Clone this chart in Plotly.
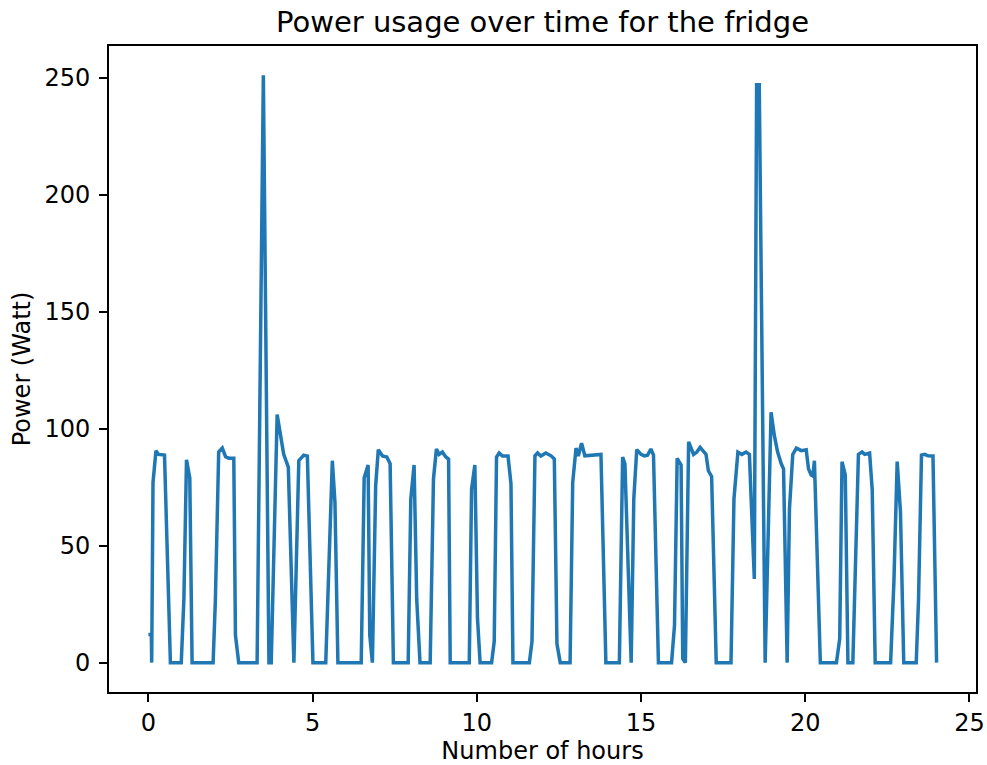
import plotly.graph_objects as go

hours = [0.0, 0.09, 0.1, 0.14, 0.23, 0.31, 0.49, 0.67, 1.0, 1.08, 1.16, 1.26, 1.33,
         1.97, 2.04, 2.14, 2.25, 2.35, 2.45, 2.6, 2.65, 2.75, 3.31, 3.5, 3.67, 3.74,
         3.92, 4.02, 4.12, 4.26, 4.43, 4.58, 4.73, 4.84, 5.01, 5.4, 5.47, 5.6, 5.68,
         5.77, 6.48, 6.57, 6.69, 6.74, 6.82, 6.92, 7.0, 7.13, 7.26, 7.36, 7.46, 7.91,
         7.99, 8.09, 8.17, 8.27, 8.58, 8.68, 8.77, 8.85, 8.95, 9.05, 9.14, 9.19, 9.77,
         9.84, 9.94, 10.02, 10.1, 10.45, 10.53, 10.6, 10.68, 10.78, 10.95, 11.04, 11.1,
         11.6, 11.68, 11.77, 11.85, 11.95, 12.1, 12.26, 12.36, 12.44, 12.54, 12.84,
         12.92, 13.02, 13.09, 13.19, 13.29, 13.78, 13.93, 14.34, 14.44, 14.51, 14.7,
         14.78, 14.87, 15.0, 15.1, 15.2, 15.3, 15.38, 15.53, 15.93, 16.02, 16.1, 16.22,
         16.27, 16.35, 16.45, 16.6, 16.7, 16.8, 16.9, 16.98, 17.05, 17.15, 17.29,
         17.74, 17.83, 17.95, 18.07, 18.2, 18.3, 18.45, 18.52, 18.6, 18.78, 18.96,
         19.06, 19.16, 19.27, 19.34, 19.45, 19.52, 19.62, 19.73, 19.88, 20.03, 20.1,
         20.18, 20.23, 20.28, 20.46, 20.95, 21.05, 21.12, 21.22, 21.3, 21.45, 21.52,
         21.62, 21.73, 21.81, 21.96, 22.04, 22.13, 22.6, 22.7, 22.8, 22.9, 23.0, 23.38,
         23.45, 23.54, 23.64, 23.74, 23.89, 24.0]

power = [12, 12, 0, 77, 90.6, 89, 88.7, 0, 0, 27, 86.7, 79, 0,
         0, 27, 90, 91.7, 88, 87.4, 87.4, 11.7, 0, 0, 251, 0, 0,
         106, 97, 89, 83.6, 0, 86.3, 88.7, 88.3, 0, 0, 27, 86.3, 68.6,
         0, 0, 79, 84.5, 11.7, 0, 75.6, 91, 88.3, 87.9, 85, 0, 0,
         70, 84.5, 27, 0, 0, 78.5, 91.3, 89, 90, 88, 87, 0, 0,
         74, 84.5, 19, 0, 0, 9, 87.9, 89.6, 88.3, 88.3, 76.4, 0,
         0, 9, 88.4, 89.6, 88.3, 89.6, 88.4, 87, 8, 0, 0,
         77, 91.7, 88.3, 93.8, 88.4, 89, 0, 0, 87.9, 85, 0,
         70, 91, 89, 88.4, 88.7, 91.3, 88.7, 0, 0, 16, 87.3, 84.5,
         1.7, 0, 94.4, 89, 90, 92, 90, 89, 82, 79.6, 0,
         0, 70, 90, 89, 90, 89, 35.8, 247, 247, 0, 107,
         97, 90, 85, 82.8, 0, 65.7, 89, 91.7, 90.6, 91, 82.8,
         80.2, 79.8, 86.3, 0, 0, 10.2, 85.9, 80.2, 0, 0, 34.5,
         89, 90, 89, 89.6, 74, 0, 0, 34.5, 85.9, 64.4, 0, 0,
         27, 88.7, 89, 88.4, 88.3, 0]

x_ticks = [0, 5, 10, 15, 20, 25]
y_ticks = [0, 50, 100, 150, 200, 250]

FONT = "DejaVu Sans"

fig = go.Figure()
fig.add_trace(go.Scatter(x=hours, y=power, mode="lines",
                         line=dict(color="#1f77b4", width=3.5),
                         showlegend=False))

axis_common = dict(showline=True, linecolor="black", linewidth=1.9, mirror=True,
                   ticks="outside", ticklen=8, tickwidth=1.9, tickcolor="black",
                   showgrid=False, zeroline=False, automargin=False,
                   ticklabeloverflow="allow",
                   tickfont=dict(family=FONT, size=24, color="black"))

fig.update_layout(
    width=987, height=765,
    margin=dict(l=109, r=11, t=46, b=73),
    plot_bgcolor="white", paper_bgcolor="white",
    title=dict(text="Power usage over time for the fridge",
               font=dict(family=FONT, size=29, color="black"),
               x=0.5, xref="paper", y=0.972, yref="container", yanchor="middle"),
    xaxis=dict(range=[-1.2, 25.2], tickvals=x_ticks,
               title=dict(text="Number of hours", font=dict(family=FONT, size=24, color="black"),
                          standoff=11),
               **axis_common),
    yaxis=dict(range=[-12.55, 263.55], tickvals=y_ticks, ticklabelstandoff=4,
               title=dict(text="Power (Watt)", font=dict(family=FONT, size=24, color="black"),
                          standoff=7),
               **axis_common),
)

fig.write_html("out.html")
